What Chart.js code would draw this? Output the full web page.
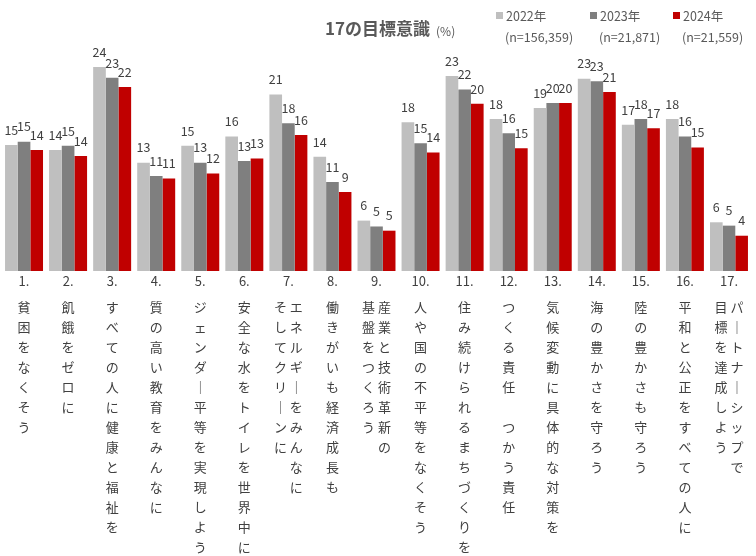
<!DOCTYPE html>
<html>
<head>
<meta charset="utf-8">
<script src="https://cdn.jsdelivr.net/npm/chart.js@4"></script>
<style>
  html, body { margin: 0; padding: 0; background: #fff; }
  #wrap { position: relative; width: 756px; height: 556px; }
</style>
</head>
<body>
<div id="wrap"><canvas id="bar-chart"></canvas></div>
<script>
// 17の目標意識 (%)
var numbers = ["1.", "2.", "3.", "4.", "5.", "6.", "7.", "8.", "9.", "10.", "11.", "12.", "13.", "14.", "15.", "16.", "17."];
// 縦書きの列（右の列が先）
var goalsRight = ["貧困をなくそう", "飢餓をゼロに", "すべての人に健康と福祉を", "質の高い教育をみんなに",
  "ジェンダー平等を実現しよう", "安全な水をトイレを世界中に", "エネルギーをみんなに", "働きがいも経済成長も",
  "産業と技術革新の", "人や国の不平等をなくそう", "住み続けられるまちづくりを", "つくる責任　つかう責任",
  "気候変動に具体的な対策を", "海の豊かさを守ろう", "陸の豊かさも守ろう", "平和と公正をすべての人に",
  "パートナーシップで"];
var goalsLeft = ["", "", "", "", "", "", "そしてクリーンに", "", "基盤をつくろう", "", "", "", "", "", "", "", "目標を達成しよう"];

var years = ["2022年", "2023年", "2024年"];
var sampleSizes = ["(n=156,359)", "(n=21,871)", "(n=21,559)"];
var colors = ['#bfbfbf', '#7f7f7f', '#c00000'];

var data2022 = [15.0, 14.4, 24.3, 12.9, 14.9, 16.0, 21.0, 13.6, 6.0, 17.7, 23.2, 18.1, 19.4, 22.9, 17.4, 18.1, 5.8];
var data2023 = [15.4, 14.9, 23.0, 11.3, 12.9, 13.1, 17.6, 10.6, 5.3, 15.2, 21.6, 16.4, 20.0, 22.6, 18.1, 16.0, 5.4];
var data2024 = [14.4, 13.7, 21.9, 11.0, 11.6, 13.4, 16.2, 9.4, 4.8, 14.1, 19.9, 14.6, 20.0, 21.3, 17.0, 14.7, 4.2];

var textColor = '#404040';
var jpFont = "'Noto Sans CJK JP', 'Noto Sans', sans-serif";

// build vertical label lines
function verticalLines(right, left) {
  var r = Array.from(right.replace(/ー/g, '｜'));
  var l = Array.from(left.replace(/ー/g, '｜'));
  var n = Math.max(r.length, l.length);
  var lines = [];
  for (var i = 0; i < n; i++) {
    if (l.length) {
      lines.push((l[i] || '　') + ' ' + (r[i] || '　'));
    } else {
      lines.push(r[i]);
    }
  }
  return lines;
}
var goalLabels = goalsRight.map(function (g, i) { return verticalLines(g, goalsLeft[i]); });

var valueLabels = {
  id: 'valueLabels',
  afterDatasetsDraw: function (chart) {
    var ctx = chart.ctx;
    ctx.save();
    ctx.font = "12.5px " + jpFont;
    ctx.fillStyle = textColor;
    ctx.textAlign = 'center';
    ctx.textBaseline = 'middle';
    chart.data.datasets.forEach(function (ds, i) {
      chart.getDatasetMeta(i).data.forEach(function (bar, j) {
        ctx.fillText(Math.round(ds.data[j]), bar.x, bar.y - 15);
      });
    });
    ctx.restore();
  }
};

var header = {
  id: 'header',
  afterDraw: function (chart) {
    var ctx = chart.ctx;
    ctx.save();
    ctx.fillStyle = '#595959';
    ctx.textBaseline = 'middle';
    ctx.textAlign = 'left';
    ctx.font = "bold 17px " + jpFont;
    ctx.fillText('17の目標意識', 325, 29);
    var w = ctx.measureText('17の目標意識').width;
    ctx.font = "12px " + jpFont;
    ctx.fillText('(%)', 325 + w + 6, 31);

    var xs = [496, 590, 673];
    ctx.font = "12.5px " + jpFont;
    years.forEach(function (y, i) {
      ctx.fillStyle = colors[i];
      ctx.fillRect(xs[i], 12, 7, 7);
      ctx.fillStyle = '#595959';
      ctx.fillText(y, xs[i] + 10, 16);
      ctx.fillText(sampleSizes[i], xs[i] + 9, 37);
    });
    ctx.restore();
  }
};

new Chart(document.getElementById("bar-chart"), {
  type: 'bar',
  data: {
    labels: numbers,
    datasets: [
      { label: years[0], backgroundColor: colors[0], data: data2022 },
      { label: years[1], backgroundColor: colors[1], data: data2023 },
      { label: years[2], backgroundColor: colors[2], data: data2024 }
    ]
  },
  options: {
    responsive: true,
    maintainAspectRatio: false,
    animation: false,
    categoryPercentage: 0.862,
    barPercentage: 1.0,
    layout: { padding: { top: 19, left: 2, right: 5, bottom: 0 } },
    plugins: {
      legend: { display: false },
      title: { display: false },
      tooltip: { enabled: false }
    },
    scales: {
      y: { display: false, min: 0, max: 30 },
      x: {
        weight: 0,
        grid: { display: false, drawTicks: false },
        border: { display: false },
        ticks: { color: textColor, font: { family: jpFont, size: 13 }, padding: 2, autoSkip: false, maxRotation: 0, minRotation: 0 },
        afterFit: function (scale) { scale.height = 25; }
      },
      x2: {
        type: 'category',
        position: 'bottom',
        weight: 1,
        offset: true,
        labels: goalLabels,
        grid: { display: false, drawTicks: false },
        border: { display: false },
        ticks: { color: textColor, font: { family: jpFont, size: 13, lineHeight: '20px' }, padding: 1, autoSkip: false, maxRotation: 0, minRotation: 0 },
        afterFit: function (scale) { scale.height = 260; }
      }
    }
  },
  plugins: [valueLabels, header]
});
</script>
</body>
</html>
